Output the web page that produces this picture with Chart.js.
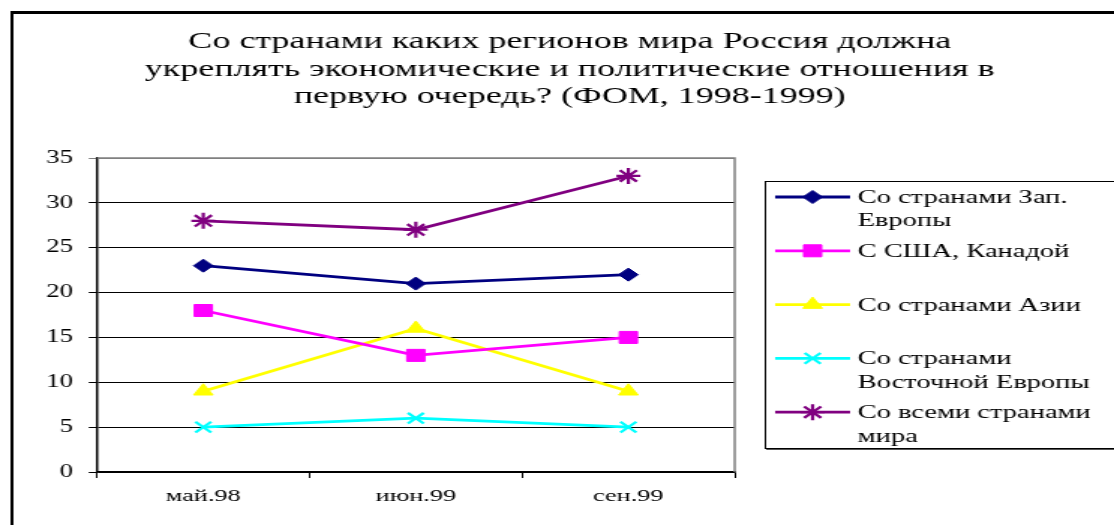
<!DOCTYPE html>
<html>
<head>
<meta charset="utf-8">
<script src="https://cdn.jsdelivr.net/npm/chart.js@4.4.0/dist/chart.umd.min.js"></script>
<style>
    html, body { margin: 0; padding: 0; background: #fff; overflow: hidden; }
    /* исходная картинка растянута по горизонтали, поэтому растягиваем и холст */
    #wrap { width: 743px; height: 525px; transform: scaleX(1.4993); transform-origin: 0 0; }
</style>
</head>
<body>
<div id="wrap"><canvas id="chart" width="743" height="525"></canvas></div>
<script>
const categories = ['май.98', 'июн.99', 'сен.99'];
const westEurope = [23, 21, 22];
const usaCanada = [18, 13, 15];
const asia = [9, 16, 9];
const eastEurope = [5, 6, 5];
const allCountries = [28, 27, 33];
const yMin = 0;
const yMax = 35;
const yStep = 5;

const titleLines = [
    'Со странами каких регионов мира Россия должна',
    'укреплять экономические и политические отношения в',
    'первую очередь? (ФОМ, 1998-1999)'
];
const seriesNames = [
    ['Со странами Зап.', 'Европы'],
    ['С США, Канадой'],
    ['Со странами Азии'],
    ['Со странами', 'Восточной Европы'],
    ['Со всеми странами', 'мира']
];

const FONT = '"Liberation Serif", "Times New Roman", serif';

function series(label, data, color, style, radius, width) {
    return {
        label: label.join(' '),
        data: data,
        borderColor: color,
        backgroundColor: color,
        borderWidth: 2.8,
        tension: 0,
        pointStyle: style,
        pointRadius: radius,
        pointHoverRadius: radius,
        pointBorderWidth: width,
        pointBackgroundColor: color,
        pointBorderColor: color
    };
}

// рамка вокруг всей диаграммы, заголовок и рамка области построения
const decorPlugin = {
    id: 'decor',
    beforeDraw(chart) {
        const ctx = chart.ctx;
        ctx.save();
        ctx.fillStyle = '#fff';
        ctx.fillRect(0, 0, chart.width, chart.height);
        ctx.strokeStyle = '#000';
        ctx.lineWidth = 3;
        ctx.beginPath();
        ctx.moveTo(7, 12.5);
        ctx.lineTo(chart.width + 5, 12.5);
        ctx.stroke();
        ctx.lineWidth = 2;
        ctx.beginPath();
        ctx.moveTo(8, 11);
        ctx.lineTo(8, chart.height + 5);
        ctx.stroke();

        ctx.fillStyle = '#000';
        ctx.font = '24px ' + FONT;
        ctx.textAlign = 'center';
        ctx.textBaseline = 'alphabetic';
        titleLines.forEach((line, i) => {
            ctx.fillText(line, 380, 48 + i * 27.5);
        });
        ctx.restore();
    },
    beforeDatasetsDraw(chart) {
        const a = chart.chartArea;
        const ctx = chart.ctx;
        ctx.save();
        ctx.strokeStyle = '#808080';
        ctx.lineWidth = 1.5;
        ctx.beginPath();
        ctx.moveTo(a.left, a.top);
        ctx.lineTo(a.right, a.top);
        ctx.lineTo(a.right, a.bottom);
        ctx.stroke();
        ctx.restore();
    }
};

// легенда в стиле Excel: рамка, образец линии с маркером, перенос строк
const legendPlugin = {
    id: 'excelLegend',
    afterDraw(chart) {
        const ctx = chart.ctx;
        ctx.save();
        ctx.strokeStyle = '#000';
        ctx.lineWidth = 1;
        ctx.strokeRect(510.5, 181.5, 300, 267);
        ctx.strokeStyle = '#555';
        ctx.beginPath();
        ctx.moveTo(511, 449.5);
        ctx.lineTo(chart.width, 449.5);
        ctx.stroke();

        chart.data.datasets.forEach((ds, i) => {
            const y = 197 + i * 53.8;
            ctx.strokeStyle = ds.borderColor;
            ctx.fillStyle = ds.backgroundColor;
            ctx.lineWidth = 2.8;
            ctx.beginPath();
            ctx.moveTo(517, y);
            ctx.lineTo(567, y);
            ctx.stroke();
            ctx.lineWidth = ds.pointBorderWidth;
            Chart.helpers.drawPoint(ctx, {
                pointStyle: ds.pointStyle,
                rotation: 0,
                radius: ds.pointRadius,
                borderWidth: ds.pointBorderWidth
            }, 542, y);

            ctx.fillStyle = '#000';
            ctx.font = '19px ' + FONT;
            ctx.textAlign = 'left';
            ctx.textBaseline = 'middle';
            seriesNames[i].forEach((line, j) => {
                ctx.fillText(line, 572, y + 1 + j * 23.5);
            });
        });
        ctx.restore();
    }
};

const ctx = document.getElementById('chart').getContext('2d');

new Chart(ctx, {
    type: 'line',
    data: {
        labels: categories,
        datasets: [
            series(seriesNames[0], westEurope, '#000080', 'rectRot', 6.5, 1),
            series(seriesNames[1], usaCanada, '#FF00FF', 'rect', 8.5, 1),
            series(seriesNames[2], asia, '#FFFF00', 'triangle', 7.5, 1),
            series(seriesNames[3], eastEurope, '#00FFFF', 'crossRot', 7.5, 2.2),
            series(seriesNames[4], allCountries, '#800080', 'star', 8, 2.2)
        ]
    },
    options: {
        responsive: false,
        animation: false,
        devicePixelRatio: 1,
        layout: { padding: { left: 0, top: 158, right: 253, bottom: 0 } },
        plugins: {
            legend: { display: false },
            title: { display: false },
            tooltip: { enabled: false }
        },
        scales: {
            x: {
                offset: true,
                afterFit(scale) { scale.height = 53; },
                grid: {
                    offset: true,
                    drawOnChartArea: false,
                    drawTicks: true,
                    tickLength: 6,
                    color: '#000'
                },
                border: { display: true, color: '#000', width: 1.5 },
                ticks: {
                    color: '#000',
                    padding: 8,
                    maxRotation: 0,
                    font: { family: FONT, size: 17.5 }
                }
            },
            y: {
                min: yMin,
                max: yMax,
                afterFit(scale) { scale.width = 64.7; },
                grid: {
                    drawTicks: true,
                    tickLength: 5.5,
                    lineWidth: 1,
                    color: c => (c.tick && c.tick.value === yMax ? '#808080' : '#000')
                },
                border: { display: true, color: '#000', width: 1.5 },
                ticks: {
                    stepSize: yStep,
                    color: '#000',
                    padding: 10.5,
                    font: { family: FONT, size: 18 }
                }
            }
        }
    },
    plugins: [decorPlugin, legendPlugin]
});
</script>
</body>
</html>
